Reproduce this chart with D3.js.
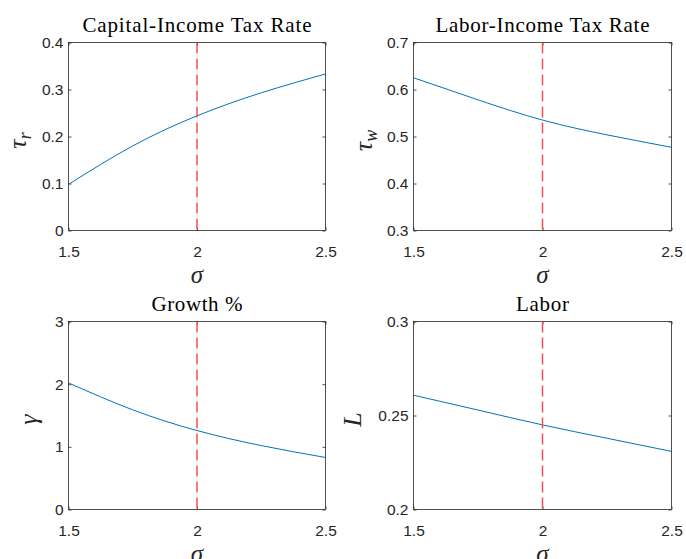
<!DOCTYPE html>
<html><head><meta charset="utf-8">
<script src="https://cdn.jsdelivr.net/npm/d3@7"></script>
<style>body{margin:0;background:#fff}svg{display:block}</style>
</head><body><svg id="c" width="686" height="559"></svg>
<script>
const sigma = [1.5, 1.75, 2, 2.25, 2.5];
const tauR = [0.098, 0.180, 0.244, 0.293, 0.333];
const tauW = [0.625, 0.578, 0.535, 0.5035, 0.477];
const growth = [2.02, 1.59, 1.26, 1.02, 0.83];
const labor = [0.2608, 0.2529, 0.245, 0.2379, 0.2309];
const titles = ["Capital-Income Tax Rate", "Labor-Income Tax Rate", "Growth %", "Labor"];
const yTicks = [[0,0.1,0.2,0.3,0.4],[0.3,0.4,0.5,0.6,0.7],[0,1,2,3],[0.2,0.25,0.3]];
const xTicks = [1.5, 2, 2.5];
const xTickLabels = ["1.5","2","2.5"];
const refSigma = 2;

const svg = d3.select("#c");
const boxes = [
  {x0:68.5, x1:325.5, y0:42.5, y1:230.5, lx:26, tw:229},
  {x0:413.5, x1:671.5, y0:42.5, y1:230.5, lx:372, tw:214},
  {x0:68.5, x1:325.5, y0:321.5, y1:509.5, lx:37, tw:91},
  {x0:413.5, x1:671.5, y0:321.5, y1:509.5, lx:361, tw:53}
];
const series = [tauR, tauW, growth, labor];
const ylabs = [["τ","r"],["τ","w"],["γ",""],["L",""]];
const axisCol = "#262626";

boxes.forEach((b,i)=>{
  const ticks = yTicks[i];
  const x = d3.scaleLinear().domain([1.5,2.5]).range([b.x0,b.x1]);
  const y = d3.scaleLinear().domain([ticks[0], ticks[ticks.length-1]]).range([b.y1,b.y0]);
  const g = svg.append("g");
  const fmt = d => (ticks.includes(0.25) ? d3.format(".2~f")(d) : d3.format("~g")(d));
  const ax = g.append("g").attr("transform",`translate(${b.x0},0)`)
    .call(d3.axisLeft(y).tickValues(ticks).tickSize(-3).tickPadding(5).tickFormat(fmt));
  const axR = g.append("g").attr("transform",`translate(${b.x1},0)`)
    .call(d3.axisRight(y).tickValues(ticks).tickSize(-3).tickFormat(""));
  const axB = g.append("g").attr("transform",`translate(0,${b.y1})`)
    .call(d3.axisBottom(x).tickValues(xTicks).tickSize(-3).tickPadding(15).tickFormat((d,k)=>xTickLabels[k]));
  const axT = g.append("g").attr("transform",`translate(0,${b.y0})`)
    .call(d3.axisTop(x).tickValues(xTicks).tickSize(-3).tickFormat(""));
  [ax,axR,axB,axT].forEach(a=>{
    a.select(".domain").remove();
    a.selectAll("line").attr("stroke",axisCol).attr("stroke-width",0.8);
    a.selectAll("text").attr("fill",axisCol).style("font-family","'Liberation Sans', Arial, sans-serif").style("font-size","15.5px");
  });
  g.append("rect").attr("x",b.x0).attr("y",b.y0).attr("width",b.x1-b.x0).attr("height",b.y1-b.y0)
    .attr("fill","none").attr("stroke",axisCol).attr("stroke-width",0.8);
  const pts = sigma.map((s,k)=>[s, series[i][k]]);
  g.append("path").datum(pts)
    .attr("d", d3.line().x(d=>x(d[0])).y(d=>y(d[1])).curve(d3.curveNatural))
    .attr("fill","none").attr("stroke","#0072BD").attr("stroke-width",1);
  g.append("line").attr("x1",x(refSigma)).attr("x2",x(refSigma)).attr("y1",b.y0).attr("y2",b.y1)
    .attr("stroke","#F05050").attr("stroke-width",1.5).attr("stroke-dasharray","11,5");
  g.append("text").attr("x",(b.x0+b.x1)/2).attr("y",b.y0-11).attr("text-anchor","middle")
    .attr("textLength",b.tw).attr("lengthAdjust","spacing")
    .style("font-family","'Liberation Serif','Times New Roman',serif").style("font-size","21px").attr("fill","#000")
    .text(titles[i]);
  g.append("text").attr("x",(b.x0+b.x1)/2).attr("y",b.y1+52).attr("text-anchor","middle")
    .style("font-family","'Liberation Serif',serif").style("font-style","italic").style("font-size","25px").attr("fill",axisCol)
    .text("σ");
  const yl = g.append("text").attr("transform",`translate(${b.lx},${(b.y0+b.y1)/2+4}) rotate(-90)`)
    .attr("text-anchor","middle")
    .style("font-family","'Liberation Serif',serif").style("font-style","italic").style("font-size","26px").attr("fill",axisCol);
  yl.append("tspan").text(ylabs[i][0]);
  if (ylabs[i][1]) yl.append("tspan").attr("dy",5).style("font-size","18px").text(ylabs[i][1]);
});
</script></body></html>
